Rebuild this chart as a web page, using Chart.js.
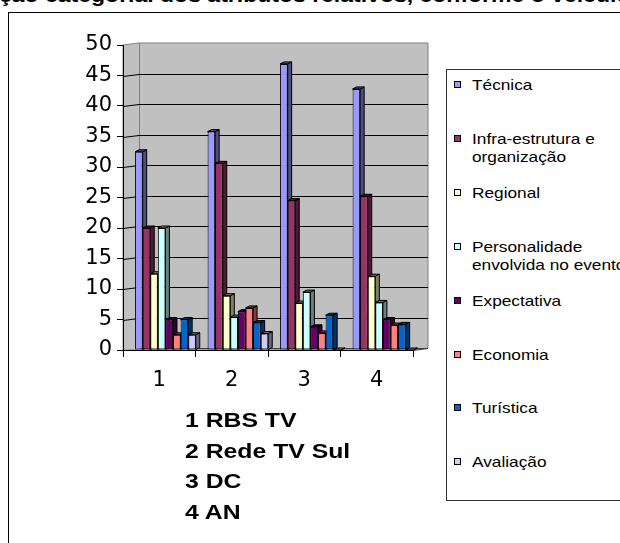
<!DOCTYPE html>
<html>
<head>
<meta charset="utf-8">
<script src="https://cdn.jsdelivr.net/npm/chart.js@4"></script>
<style>
  html, body { margin:0; background:#fff; }
  #page { position:relative; width:620px; height:543px; overflow:hidden; font-family:'Liberation Sans', Arial, sans-serif; background:#fff; }
  #frame { position:absolute; left:8px; top:12px; width:700px; height:600px; border-left:1px solid #000; border-top:1px solid #000; }
  #title { position:absolute; left:-1px; top:-15px; font-weight:bold; font-size:20px; line-height:20px; white-space:nowrap; transform:scaleX(1.15); transform-origin:0 0; }
  #chart { position:absolute; left:0; top:0; }
  #legend { position:absolute; left:446px; top:69px; width:200px; height:432px; background:#fff; }
  .edge { position:absolute; background:#333; }
  .item { position:absolute; left:1px; height:40px; }
  .sw { position:absolute; left:7px; top:5px; width:7px; height:7px; border:1px solid #000; box-sizing:border-box; }
  .txt { position:absolute; left:25px; top:0; font-size:15px; line-height:18px; white-space:pre; transform:scaleX(1.15); transform-origin:0 0; }
  #names { position:absolute; left:185px; top:405px; font-weight:bold; font-size:21px; line-height:30.5px; white-space:pre; transform:scaleX(1.18); transform-origin:0 0; }
</style>
</head>
<body>
<div id="page">
<div id="frame"></div>
<div id="title">ção categorial dos atributos relativos, conforme o veículo</div>
<canvas id="chart" width="620" height="543"></canvas>
<div id="legend">
  <div class="edge" style="left:0;top:0;width:200px;height:1px"></div>
  <div class="edge" style="left:0;top:0;width:1px;height:432px"></div>
  <div class="edge" style="left:0;top:431px;width:200px;height:1px"></div>
</div>
<div id="names"></div>
</div>
<script>
// categories on the x axis and what they stand for
const categories = ['1', '2', '3', '4'];
const networks = ['RBS TV', 'Rede TV Sul', 'DC', 'AN'];

const seriesNames = ['Técnica', 'Infra-estrutura e\norganização', 'Regional',
  'Personalidade\nenvolvida no evento', 'Expectativa', 'Economia', 'Turística', 'Avaliação'];

// values (%)
const tecnica       = [32.5, 35.8, 46.9, 42.8];
const infra         = [20.0, 30.6, 24.5, 25.2];
const regional      = [12.5, 8.9, 7.7, 12.1];
const personalidade = [20.0, 5.4, 9.5, 7.8];
const expectativa   = [5.0, 6.3, 3.8, 5.0];
const economia      = [2.5, 6.9, 2.8, 4.1];
const turistica     = [5.0, 4.5, 5.7, 4.2];
const avaliacao     = [2.5, 2.7, 0, 0];

const seriesData = [tecnica, infra, regional, personalidade, expectativa, economia, turistica, avaliacao];
const colors = ['#9999FF', '#993366', '#FFFFCC', '#CCFFFF', '#660066', '#FF8080', '#0066CC', '#CCCCFF'];

function shade(hex, f) {
  const n = parseInt(hex.slice(1), 16);
  const r = Math.round(((n >> 16) & 255) * f), g = Math.round(((n >> 8) & 255) * f), b = Math.round((n & 255) * f);
  return 'rgb(' + r + ',' + g + ',' + b + ')';
}
const sideColors = colors.map(c => shade(c, 0.5));

// depth of the walls and of the bars
const WX = 16, WY = -2;
const BX = 4, BY = -2;

const wall = {
  id: 'wall',
  beforeDraw(chart) {
    const ctx = chart.ctx, a = chart.chartArea, y = chart.scales.y;
    ctx.save();
    ctx.lineWidth = 1;
    ctx.fillStyle = '#c0c0c0';
    ctx.beginPath();
    ctx.moveTo(a.left, a.bottom);
    ctx.lineTo(a.left, a.top);
    ctx.lineTo(a.left + WX, a.top + WY);
    ctx.lineTo(a.right + WX - 1, a.top + WY);
    ctx.lineTo(a.right + WX - 1, a.bottom + WY);
    ctx.lineTo(a.right, a.bottom);
    ctx.closePath();
    ctx.fill();
    ctx.strokeStyle = '#808080';
    ctx.stroke();
    // back corner
    ctx.beginPath();
    ctx.moveTo(a.left + WX + 0.5, a.top + WY);
    ctx.lineTo(a.left + WX + 0.5, a.bottom + WY);
    ctx.stroke();
    // grid lines on side and back wall
    ctx.strokeStyle = '#000';
    y.ticks.forEach(t => {
      if (t.value === y.min || t.value === y.max) return;
      const py = Math.round(y.getPixelForValue(t.value)) + 0.5;
      ctx.beginPath();
      ctx.moveTo(a.left, py);
      ctx.lineTo(a.left + WX, py + WY);
      ctx.lineTo(a.right + WX - 1, py + WY);
      ctx.stroke();
    });
    // floor back edge
    ctx.strokeStyle = '#404040';
    ctx.beginPath();
    ctx.moveTo(a.left + WX, a.bottom + WY + 0.5);
    ctx.lineTo(a.right + WX - 1, a.bottom + WY + 0.5);
    ctx.lineTo(a.right, a.bottom + 0.5);
    ctx.stroke();
    ctx.restore();
  }
};

// side and top faces, drawn before the fronts so the next bar covers them
const bars3d = {
  id: 'bars3d',
  beforeDatasetsDraw(chart) {
    const ctx = chart.ctx;
    const metas = seriesData.map((d, j) => chart.getDatasetMeta(j));
    ctx.save();
    ctx.lineWidth = 1;
    ctx.strokeStyle = '#000';
    categories.forEach((c, i) => {
      metas.forEach((m, j) => {
        const p = m.data[i].getProps(['x', 'y', 'base', 'width'], true);
        const l = p.x - p.width / 2, r = p.x + p.width / 2;
        ctx.fillStyle = sideColors[j];
        ctx.beginPath();
        ctx.moveTo(r, p.y);
        ctx.lineTo(r + BX, p.y + BY);
        ctx.lineTo(r + BX, p.base + BY);
        ctx.lineTo(r, p.base);
        ctx.closePath();
        ctx.fill();
        ctx.stroke();
        ctx.beginPath();
        ctx.moveTo(l, p.y);
        ctx.lineTo(l + BX, p.y + BY);
        ctx.lineTo(r + BX, p.y + BY);
        ctx.lineTo(r, p.y);
        ctx.closePath();
        ctx.fill();
        ctx.stroke();
      });
    });
    ctx.restore();
  }
};

const tickFont = { family: 'DejaVu Sans', size: 21 };

new Chart(document.getElementById('chart'), {
  type: 'bar',
  data: {
    labels: categories,
    datasets: seriesData.map((d, j) => ({
      label: seriesNames[j],
      data: d,
      xAxisID: 'xb',
      backgroundColor: colors[j],
      borderColor: '#000',
      borderWidth: 1,
      borderSkipped: false,
      categoryPercentage: 0.837,
      barPercentage: 1
    }))
  },
  options: {
    responsive: false,
    animation: false,
    devicePixelRatio: 1,
    layout: { padding: { left: 8, top: 45, right: 207, bottom: 0 } },
    plugins: { legend: { display: false }, tooltip: { enabled: false } },
    scales: {
      x: {
        type: 'category',
        offset: true,
        grid: { offset: true, drawOnChartArea: false, tickLength: 7, color: '#000' },
        border: { color: '#000' },
        ticks: { color: '#000', font: tickFont, padding: 11, maxRotation: 0 },
        afterFit(s) { s.height = 193; }
      },
      xb: { type: 'linear', display: false, offset: false, min: 0.415, max: 4.415 },
      y: {
        min: 0,
        max: 50,
        ticks: { stepSize: 5, color: '#000', font: tickFont, padding: 5 },
        grid: { drawOnChartArea: false, tickLength: 6, color: '#000' },
        border: { color: '#000' },
        afterFit(s) { s.width = 115; }
      }
    }
  },
  plugins: [wall, bars3d]
});

// legend box, one slot per series
const legend = document.getElementById('legend');
seriesNames.forEach((name, j) => {
  const item = document.createElement('div');
  item.className = 'item';
  item.style.top = (7 + j * 53.9) + 'px';
  const sw = document.createElement('div');
  sw.className = 'sw';
  sw.style.background = colors[j];
  const txt = document.createElement('div');
  txt.className = 'txt';
  txt.textContent = name;
  item.appendChild(sw);
  item.appendChild(txt);
  legend.appendChild(item);
});

document.getElementById('names').textContent =
  categories.map((c, i) => c + ' ' + networks[i]).join('\n');
</script>
</body>
</html>
